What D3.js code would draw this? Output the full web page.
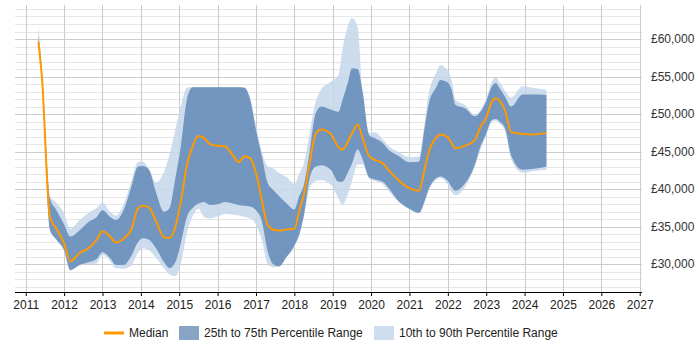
<!DOCTYPE html>
<html>
<head>
<meta charset="utf-8">
<script src="https://cdn.jsdelivr.net/npm/d3@7"></script>
<style>
  body { margin: 0; background: #fff; }
  text { font-family: "Liberation Sans", Arial, sans-serif; }
</style>
</head>
<body>
<svg id="chart"></svg>
<script>
// decimal years of each sample
const dates = [2011.33, 2011.42, 2011.63, 2011.8, 2012.0, 2012.16, 2012.4, 2012.65, 2012.85, 2013.0,
  2013.2, 2013.35, 2013.55, 2013.75, 2013.92, 2014.05, 2014.2, 2014.4, 2014.6, 2014.75,
  2014.9, 2015.05, 2015.2, 2015.35, 2015.5, 2015.65, 2015.8, 2016.0, 2016.2, 2016.4,
  2016.55, 2016.7, 2016.85, 2017.0, 2017.15, 2017.3, 2017.45, 2017.6, 2017.8, 2018.0,
  2018.12, 2018.25, 2018.4, 2018.55, 2018.7, 2018.95, 2019.15, 2019.25, 2019.4, 2019.5,
  2019.65, 2019.78, 2019.95, 2020.1, 2020.3, 2020.45, 2020.7, 2021.0, 2021.25, 2021.4,
  2021.5, 2021.7, 2021.8, 2022.0, 2022.1, 2022.2, 2022.45, 2022.7, 2022.85, 2023.0,
  2023.15, 2023.25, 2023.35, 2023.5, 2023.65, 2023.95, 2024.2, 2024.57]

const median = [59600, 55000, 36300, 34700, 32800, 30400, 31500, 32200, 33300, 34400,
  33700, 32900, 33400, 34600, 37400, 37800, 37600, 35700, 33600, 33500,
  35000, 38600, 43200, 45700, 47100, 46800, 46000, 45800, 45700, 44500,
  43600, 44400, 44100, 42200, 38600, 35300, 34600, 34500, 34650, 34700,
  37000, 39300, 43500, 47300, 47950, 47350, 45600, 45250, 46400, 47400,
  48600, 46800, 44400, 43900, 43450, 42600, 41250, 40100, 39800, 42800,
  44900, 46900, 47300, 46900, 46100, 45450, 45800, 46500, 48300, 49500,
  51700, 52100, 51750, 50300, 47600, 47350, 47300, 47500]

const p75 = [60500, 55800, 38800, 37200, 35300, 33700, 34500, 35700, 36300, 37200,
  36300, 35900, 37200, 40300, 42990, 43080, 42700, 39500, 37000, 37500,
  41500, 46000, 51900, 53570, 53570, 53570, 53570, 53570, 53570, 53570,
  53570, 53500, 51900, 47900, 44500, 40900, 39900, 39100, 38100, 37300,
  39000, 40600, 45000, 50000, 51000, 50600, 50300, 51800, 54300, 56100,
  56000, 53000, 47200, 46800, 46200, 45300, 44500, 43600, 43660, 48300,
  51300, 53600, 54540, 54200, 53200, 51200, 50770, 49700, 50300, 51700,
  53700, 54150, 53450, 52200, 51000, 52600, 52600, 52550]

const p25 = [59300, 54500, 34600, 33300, 31900, 29250, 29900, 30300, 30700, 31600,
  30800, 29900, 29900, 31100, 32900, 33460, 33300, 32100, 30300, 29500,
  30300, 33000, 36300, 37500, 38100, 38300, 37900, 38000, 38300, 38100,
  37900, 37800, 37700, 37200, 35800, 31800, 30000, 29700, 31000, 32500,
  33800, 36500, 41500, 43000, 43200, 42600, 41000, 41000, 42300, 43400,
  45300, 44000, 41600, 41300, 41000, 40200, 38500, 37400, 36850, 38500,
  40000, 41500, 41700, 41100, 40300, 39800, 40800, 43200, 45700, 47400,
  49200, 49350, 49000, 48000, 44500, 42600, 42700, 43000]

const p90 = [61900, 56200, 39100, 38200, 36800, 34700, 35900, 36900, 37500, 38200,
  37000, 36500, 38000, 41000, 43600, 43660, 42800, 40900, 42300, 44700,
  48000, 51200, 53500, 53600, 53600, 53600, 53600, 53600, 53600, 53600,
  53600, 53550, 52000, 48500, 45000, 43100, 42800, 42200, 41600, 40700,
  42000, 43500, 47500, 51500, 53300, 54300, 55200, 58500, 61800, 62800,
  61600, 52500, 47500, 47600, 46700, 45800, 45000, 44300, 44330, 49000,
  52700, 55500, 56540, 55700, 54500, 51900, 51200, 49900, 50500, 52000,
  54300, 54900, 54200, 53000, 52200, 53700, 53500, 53200]

const p10 = [59000, 54300, 34500, 33200, 31700, 29150, 29800, 30000, 30100, 31300,
  30400, 29460, 29400, 29800, 31500, 32130, 31900, 30850, 29500, 28600,
  28400, 30300, 34100, 36400, 37400, 36300, 36100, 36350, 36700, 36600,
  36500, 36300, 36100, 35300, 33300, 30100, 29600, 29800, 31000, 32300,
  34800, 36500, 40200, 41100, 41200, 40600, 38800, 37900, 39400, 41000,
  43300, 43300, 41400, 41100, 40700, 39800, 38400, 37300, 36800, 38300,
  39800, 41300, 41500, 40600, 39600, 39200, 40300, 43000, 45300, 47100,
  49000, 49100, 48700, 47600, 44000, 42200, 42400, 42600]

const yearTicks = d3.range(2011, 2028)
const salaryTicks = [30000, 35000, 40000, 45000, 50000, 55000, 60000]
const legendItems = ['Median', '25th to 75th Percentile Range', '10th to 90th Percentile Range']

const width = 700, height = 350
const plot = {left: 15, right: 642, top: 5, bottom: 292}

const svg = d3.select('#chart')
    .attr('width', width)
    .attr('height', height)

const x = d3.scaleLinear()
    .domain([2010.72, 2027.06])
    .range([plot.left, plot.right])

const y = d3.scaleLinear()
    .domain([26310, 64530])
    .range([plot.bottom, plot.top])

// gridlines - minor every 1000, major every 5000
const minor = d3.range(27000, 64001, 1000).filter(v => v % 5000 !== 0)
svg.append('g')
    .selectAll('line')
    .data(minor)
    .join('line')
    .attr('x1', plot.left).attr('x2', plot.right)
    .attr('y1', d => Math.round(y(d)) + 0.5).attr('y2', d => Math.round(y(d)) + 0.5)
    .attr('stroke', '#e6e6e6')

svg.append('g')
    .selectAll('line')
    .data(salaryTicks)
    .join('line')
    .attr('x1', plot.left).attr('x2', plot.right)
    .attr('y1', d => Math.round(y(d)) + 0.5).attr('y2', d => Math.round(y(d)) + 0.5)
    .attr('stroke', '#cccccc')

svg.append('g')
    .selectAll('line')
    .data(yearTicks)
    .join('line')
    .attr('x1', d => Math.round(x(d)) + 0.5).attr('x2', d => Math.round(x(d)) + 0.5)
    .attr('y1', plot.top).attr('y2', plot.bottom)
    .attr('stroke', '#cccccc')

const rows = dates.map((d, i) => ({
    date: d, median: median[i], p10: p10[i], p25: p25[i], p75: p75[i], p90: p90[i]
}))

const band = (lo, hi) => d3.area()
    .x(d => x(d.date))
    .y0(d => y(d[lo]))
    .y1(d => y(d[hi]))
    .curve(d3.curveMonotoneX)

// bands are a bit see-through so the grid shows
svg.append('path')
    .datum(rows)
    .attr('fill', 'rgb(196,215,234)')
    .attr('fill-opacity', 0.85)
    .attr('d', band('p10', 'p90'))

svg.append('path')
    .datum(rows)
    .attr('fill', 'rgb(97,137,182)')
    .attr('fill-opacity', 0.85)
    .attr('d', band('p25', 'p75'))

svg.append('path')
    .datum(rows)
    .attr('fill', 'none')
    .attr('stroke', '#ff9900')
    .attr('stroke-width', 2)
    .attr('stroke-linejoin', 'round')
    .attr('d', d3.line()
        .x(d => x(d.date))
        .y(d => y(d.median))
        .curve(d3.curveMonotoneX))

// x axis
const xAxisG = svg.append('g')
    .attr('transform', `translate(0,${plot.bottom})`)
    .call(d3.axisBottom(x).tickValues(yearTicks).tickFormat(d3.format('d')).tickSizeOuter(0).tickSize(4))
xAxisG.select('.domain').attr('stroke', '#000').attr('d', `M${plot.left},0.5H${plot.right}`)
xAxisG.selectAll('.tick line').attr('stroke', '#000')
xAxisG.selectAll('.tick text')
    .attr('font-family', '"Liberation Sans", Arial, sans-serif')
    .attr('font-size', 12)
    .attr('fill', '#222')
    .attr('dy', '0.85em')

// y labels on the right
svg.append('g')
    .selectAll('text')
    .data(salaryTicks)
    .join('text')
    .attr('x', plot.right + 9)
    .attr('y', d => y(d))
    .attr('dy', '0.35em')
    .attr('font-size', 12)
    .attr('fill', '#333')
    .text(d => '£' + d3.format(',')(d))

// legend
const legend = svg.append('g').attr('transform', 'translate(0,333)')
legend.append('line')
    .attr('x1', 104).attr('x2', 124)
    .attr('stroke', '#ff9900').attr('stroke-width', 3)
legend.append('rect')
    .attr('x', 179).attr('y', -7).attr('width', 20).attr('height', 14)
    .attr('fill', 'rgb(136,164,196)')
legend.append('rect')
    .attr('x', 374).attr('y', -7).attr('width', 20).attr('height', 14)
    .attr('fill', 'rgb(206,222,238)')
legend.selectAll('text')
    .data(legendItems)
    .join('text')
    .attr('x', (d, i) => [129, 204, 399][i])
    .attr('dy', '0.35em')
    .attr('font-size', 12)
    .attr('fill', '#222')
    .text(d => d)
</script>
</body>
</html>
